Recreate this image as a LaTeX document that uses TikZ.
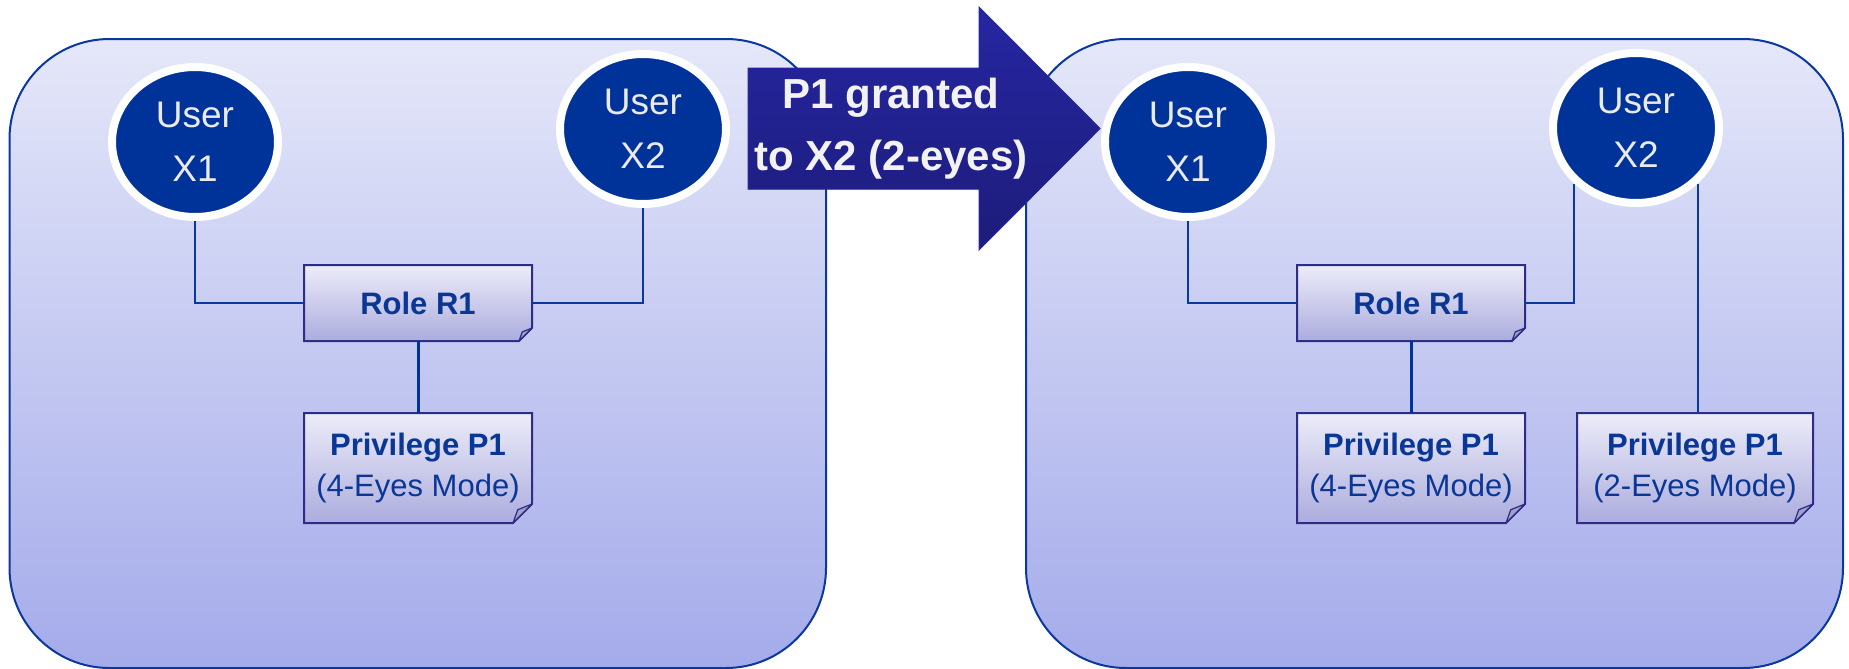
\documentclass[tikz,border=0pt]{standalone}
\usepackage{fontspec}
\setmainfont{Liberation Sans}
\usetikzlibrary{calc,positioning,shapes.geometric,backgrounds}

\definecolor{paneltop}{RGB}{229,231,249}
\definecolor{panelbottom}{RGB}{164,171,234}
\definecolor{panelline}{RGB}{10,55,160}
\definecolor{userblue}{RGB}{0,51,153}
\definecolor{usertext}{RGB}{234,234,234}
\definecolor{boxtop}{RGB}{236,236,249}
\definecolor{boxbottom}{RGB}{172,172,222}
\definecolor{boxline}{RGB}{45,45,135}
\definecolor{boxtext}{RGB}{10,55,150}
\definecolor{foldgrey}{RGB}{160,160,200}
\definecolor{arrowtop}{RGB}{38,38,162}
\definecolor{arrowbottom}{RGB}{28,28,122}

\begin{document}
\begin{tikzpicture}[x=0.5pt,y=-0.5pt]

\tikzset{panel/.style={draw=panelline,line width=1pt,rounded corners=50pt,top color=paneltop,bottom color=panelbottom},
usernode/.style={shape=ellipse,fill=userblue,draw=white,line width=4pt,inner sep=0pt,minimum width=83pt,minimum height=75pt,align=center,text=usertext,font=\fontsize{18.5}{27}\selectfont},
notebox/.style={shape=rectangle,inner sep=0pt,outer sep=0pt,align=center,text=boxtext,font=\fontsize{15.5}{20.5}\selectfont},
rolebox/.style={notebox,minimum width=114pt,minimum height=38pt},
privbox/.style={notebox,minimum width=114pt,minimum height=55pt},
noteshape/.style={draw=boxline,line width=1pt,line join=miter,top color=boxtop,bottom color=boxbottom},
fold/.style={fill=foldgrey,draw=boxline,line width=0.6pt,line join=round},
link/.style={draw=panelline,line width=1pt},
biglink/.style={draw=userblue,line width=1.5pt},
bigarrow/.style={top color=arrowtop,bottom color=arrowbottom,draw=arrowtop,line width=0.5pt},
arrowtext/.style={align=center,text={rgb,255:red,242;green,242;blue,242},font=\fontsize{21}{31}\selectfont\bfseries}}

\useasboundingbox (0,0) rectangle (1849,669);

% Panels
\begin{scope}[on background layer]
\draw[panel] (9.5,39) rectangle (826,668);
\draw[panel] (1026,39) rectangle (1843,668);
\end{scope}

% Grant arrow
\filldraw[bigarrow] (748,68) -- (979,68) -- (979,7) -- (1100,128.5) -- (979,250) -- (979,189) -- (748,189) -- cycle;
\node[arrowtext] (grant) at (891,129) {P1 granted\\to X2 (2-eyes)};

% Left panel nodes
\node[usernode] (u1l) at (195,142) {User\\X1};
\node[usernode] (u2l) at (643,129) {User\\X2};
\node[rolebox] (rolel) at (418,303) {\textbf{Role R1}};
\node[privbox,below=36pt of rolel] (privl) {\textbf{Privilege P1}\\(4-Eyes Mode)};

% Right panel nodes
\coordinate (rightPanel) at (993,0);
\node[usernode] (u1r) at ($(u1l)+(rightPanel)$) {User\\X1};
\node[usernode] (u2r) at ($(u2l)+(rightPanel)+(0,-1)$) {User\\X2};
\node[rolebox] (roler) at ($(rolel)+(rightPanel)$) {\textbf{Role R1}};
\node[privbox,below=36pt of roler] (privr) {\textbf{Privilege P1}\\(4-Eyes Mode)};
\node[privbox,right=26pt of privr,minimum width=118pt] (priv2r) {\textbf{Privilege P1}\\(2-Eyes Mode)};

% Note shapes with folded corners
\begin{scope}[on background layer]
\foreach \b/\f in {rolel/13, roler/13, privl/19, privr/19, priv2r/19} {
  \filldraw[noteshape] (\b.north west) -- (\b.north east) -- ($(\b.south east)+(0,-\f)$) -- ($(\b.south east)+(-\f,0)$) -- (\b.south west) -- cycle;
  \filldraw[fold] ($(\b.south east)+(-\f,0)$) -- ($(\b.south east)+(0,-\f)$) -- ($(\b.south east)+(-0.75*\f,-0.7*\f)$) -- cycle;
}
\end{scope}

% Edges
\draw[link] (u1l) |- (rolel); \draw[link] (rolel) -| (u2l); \draw[biglink] (rolel) -- (privl); % left
\draw[link] (u1r) |- (roler); \draw[link] (roler) -| (u2r.south west); \draw[biglink] (roler) -- (privr); % right
\draw[link] (u2r.south east) -- (u2r.south east |- priv2r.north);

\end{tikzpicture}
\end{document}
